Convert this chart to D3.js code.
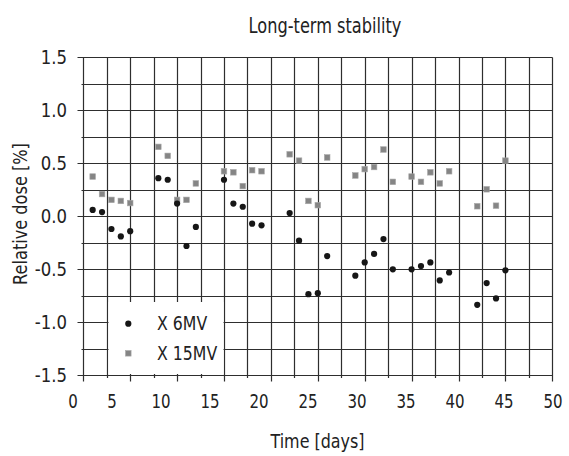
<!DOCTYPE html>
<html>
<head>
<meta charset="utf-8">
<script src="https://cdn.jsdelivr.net/npm/d3@7/dist/d3.min.js"></script>
<style>
  html, body { margin: 0; padding: 0; background: #fff; }
  text { font-family: "DejaVu Sans", sans-serif; fill: #222; }
</style>
</head>
<body>
<div id="chart"></div>
<script>
// measurement days (same for both beams)
const days = [1, 2, 3, 4, 5, 8, 9, 10, 11, 12, 15, 16, 17, 18, 19, 22, 23, 24, 25, 26,
  29, 30, 31, 32, 33, 35, 36, 37, 38, 39, 42, 43, 44, 45];

const dose6MV = [0.06, 0.04, -0.12, -0.19, -0.14, 0.36, 0.345, 0.12, -0.28, -0.10,
  0.345, 0.12, 0.09, -0.07, -0.085, 0.03, -0.23, -0.735, -0.725, -0.375,
  -0.56, -0.435, -0.355, -0.215, -0.50, -0.50, -0.47, -0.435, -0.605, -0.53,
  -0.835, -0.63, -0.775, -0.51];

const dose15MV = [0.375, 0.21, 0.155, 0.145, 0.125, 0.655, 0.57, 0.155, 0.155, 0.31,
  0.425, 0.415, 0.285, 0.435, 0.425, 0.585, 0.525, 0.145, 0.105, 0.555,
  0.385, 0.445, 0.465, 0.63, 0.325, 0.375, 0.325, 0.415, 0.31, 0.425,
  0.095, 0.255, 0.10, 0.525];

const xTickLabels = [0, 5, 10, 15, 20, 25, 30, 35, 40, 45, 50];
const yTickLabels = [-1.5, -1.0, -0.5, 0.0, 0.5, 1.0, 1.5];
const seriesNames = ["X 6MV", "X 15MV"];

let width = 569,
  height = 456;

let svg = d3.select("#chart")
  .append("svg")
  .attr("width", width)
  .attr("height", height);

let x = d3.scaleLinear()
  .domain([0, 50])
  .range([83.3, 552.3]);

let y = d3.scaleLinear()
  .domain([-1.5, 1.5])
  .range([375.3, 57.3]);

// tick labels sit a little off the grid in the original figure
let xLabel = d3.scaleLinear()
  .domain([0, 5, 50])
  .range([73, 112, 553]);

// snap grid lines to the pixel grid so they all look the same
const snap = v => Math.round(v) + 0.5;

// no condensed font installed: squeeze text horizontally
const squeeze = (px, py, k, rot) =>
  `translate(${px},${py})` + (rot ? ` rotate(${rot})` : "") + ` scale(${k},1)`;

let gridColor = "#2e2e2e";

let grid = svg.append("g").attr("class", "grid")
  .attr("stroke", gridColor)
  .attr("stroke-width", 1.2);

grid.selectAll("line.v")
  .data(d3.range(0, 50.01, 2.5))
  .join("line")
  .attr("class", "v")
  .attr("x1", d => snap(x(d))).attr("x2", d => snap(x(d)))
  .attr("y1", snap(y(1.5)))
  .attr("y2", d => snap(y(-1.5)) + (d % 5 === 0 ? 6 : 2.5));

grid.selectAll("line.h")
  .data(d3.range(-1.5, 1.51, 0.25))
  .join("line")
  .attr("class", "h")
  .attr("x1", d => snap(x(0)) - (Math.abs(d * 2 - Math.round(d * 2)) < 1e-6 ? 6 : 2))
  .attr("x2", snap(x(50)))
  .attr("y1", d => snap(y(d))).attr("y2", d => snap(y(d)));

// legend background covers grid
let legend = svg.append("g").attr("class", "legend");
legend.append("rect")
  .attr("x", snap(x(2.5)) + 1)
  .attr("y", 302)
  .attr("width", snap(x(15)) - snap(x(2.5)) - 2)
  .attr("height", snap(y(-1.5)) - 302 - 1.5)
  .attr("fill", "#fff");

// points
let g = svg.append("g");

g.selectAll("rect.p15")
  .data(days)
  .join("rect")
  .attr("class", "p15")
  .attr("x", d => x(d) - 2.8)
  .attr("y", (d, i) => y(dose15MV[i]) - 2.8)
  .attr("width", 5.6)
  .attr("height", 5.6)
  .attr("fill", "#858585")
  .attr("stroke", "#a8a8a8")
  .attr("stroke-width", 0.6);

g.selectAll("circle.p6")
  .data(days)
  .join("circle")
  .attr("class", "p6")
  .attr("cx", d => x(d))
  .attr("cy", (d, i) => y(dose6MV[i]))
  .attr("r", 3.1)
  .attr("fill", "#161616");

// legend entries
legend.append("circle")
  .attr("cx", 128.3).attr("cy", 323.7)
  .attr("r", 3.1)
  .attr("fill", "#161616");
legend.append("rect")
  .attr("x", 128.3 - 2.8).attr("y", 353.3 - 2.8)
  .attr("width", 5.6).attr("height", 5.6)
  .attr("fill", "#858585")
  .attr("stroke", "#a8a8a8")
  .attr("stroke-width", 0.6);
legend.selectAll("text")
  .data(seriesNames)
  .join("text")
  .attr("transform", (d, i) => squeeze(157, 323.7 + i * 29.6, 0.83))
  .attr("dy", "0.35em")
  .attr("font-size", 19)
  .text(d => d);

// tick labels
svg.append("g").selectAll("text")
  .data(xTickLabels)
  .join("text")
  .attr("transform", d => squeeze(xLabel(d), 408, 0.79))
  .attr("text-anchor", "middle")
  .attr("font-size", 19)
  .text(d => d);

svg.append("g").selectAll("text")
  .data(yTickLabels)
  .join("text")
  .attr("transform", d => squeeze(67, y(d), 0.87))
  .attr("dy", "0.35em")
  .attr("text-anchor", "end")
  .attr("font-size", 19)
  .text(d => d.toFixed(1));

// titles
svg.append("text")
  .attr("transform", squeeze(325, 33, 0.77))
  .attr("text-anchor", "middle")
  .attr("font-size", 21)
  .text("Long-term stability");

svg.append("text")
  .attr("transform", squeeze(317.5, 448, 0.84))
  .attr("text-anchor", "middle")
  .attr("font-size", 19)
  .text("Time [days]");

svg.append("text")
  .attr("transform", squeeze(27, 214, 0.85, -90))
  .attr("text-anchor", "middle")
  .attr("font-size", 19)
  .text("Relative dose [%]");
</script>
</body>
</html>
